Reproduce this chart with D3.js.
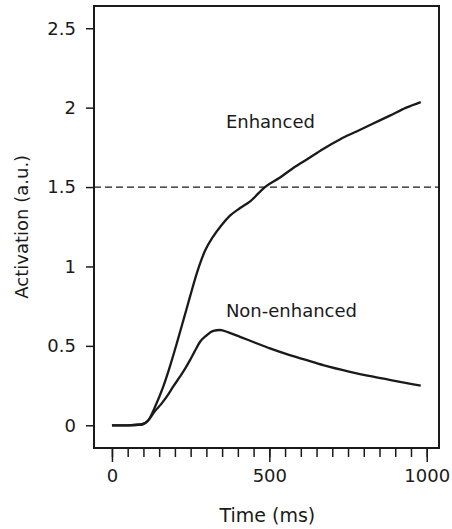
<!DOCTYPE html>
<html>
<head>
<meta charset="utf-8">
<script src="https://cdn.jsdelivr.net/npm/d3@7"></script>
<style>
  body { margin: 0; background: #fff; }
  svg text { font-family: "DejaVu Sans", Verdana, sans-serif; fill: #1a1a1a; }
</style>
</head>
<body>
<svg id="chart"></svg>
<script>
// curve samples (time in ms, activation in a.u.)
let enhancedTime = [0, 50, 94, 115, 137, 163, 184, 206, 227, 248, 270, 296, 322, 348, 375, 405, 439, 486, 534, 576, 624, 671, 724, 777, 830, 883, 935, 981]
let enhancedValue = [0, 0, 0.005, 0.03, 0.117, 0.243, 0.369, 0.516, 0.662, 0.81, 0.96, 1.10, 1.19, 1.26, 1.32, 1.365, 1.41, 1.50, 1.56, 1.62, 1.68, 1.74, 1.80, 1.85, 1.90, 1.95, 2.00, 2.035]

let nonTime = [0, 50, 94, 115, 137, 155, 174, 195, 216, 232, 248, 264, 280, 300, 322, 343, 370, 407, 455, 502, 560, 619, 671, 756, 830, 915, 981]
let nonValue = [0, 0, 0.005, 0.03, 0.09, 0.13, 0.18, 0.245, 0.306, 0.355, 0.41, 0.47, 0.526, 0.565, 0.595, 0.60, 0.585, 0.557, 0.52, 0.484, 0.445, 0.41, 0.379, 0.337, 0.306, 0.274, 0.249]

let threshold = 1.5
let yTicks = [0, 0.5, 1, 1.5, 2, 2.5]
let xMajorTicks = [0, 500, 1000]
let xMinorTicks = d3.range(0, 1001, 50)

let width = 452
let height = 529

let svg = d3.select("#chart").attr("width", width).attr("height", height)

// plot box edges sit outside the data range
let x = d3.scaleLinear().domain([-57, 1039]).range([94, 439])
let y = d3.scaleLinear().domain([-0.143, 2.64]).range([448, 6])

let ink = "#1a1a1a"

// dashed threshold
svg.append("line")
   .attr("x1", x(-57)).attr("x2", x(1039))
   .attr("y1", y(threshold)).attr("y2", y(threshold))
   .attr("stroke", ink)
   .attr("stroke-width", 1.3)
   .attr("stroke-dasharray", "7,4")

let line = d3.line()
             .x(d => x(d[0]))
             .y(d => y(d[1]))
             .curve(d3.curveMonotoneX)

let enhanced = enhancedTime.map((t, i) => [t, enhancedValue[i]])
let nonEnhanced = nonTime.map((t, i) => [t, nonValue[i]])

svg.append("path")
   .datum(nonEnhanced)
   .attr("d", line)
   .attr("fill", "none")
   .attr("stroke", ink)
   .attr("stroke-width", 2.3)
   .attr("stroke-linejoin", "round")

svg.append("path")
   .datum(enhanced)
   .attr("d", line)
   .attr("fill", "none")
   .attr("stroke", ink)
   .attr("stroke-width", 2.3)
   .attr("stroke-linejoin", "round")

// box
svg.append("rect")
   .attr("x", x(-57)).attr("y", y(2.64))
   .attr("width", x(1039) - x(-57))
   .attr("height", y(-0.143) - y(2.64))
   .attr("fill", "none")
   .attr("stroke", ink)
   .attr("stroke-width", 2)

// y axis
let yAxis = svg.append("g")
   .attr("transform", "translate(" + x(-57) + ",0)")
   .call(d3.axisLeft(y).tickValues(yTicks).tickSize(8).tickPadding(10).tickFormat(d3.format("~g")))
yAxis.select(".domain").remove()
yAxis.selectAll("line").attr("stroke", ink).attr("stroke-width", 1.5)
yAxis.selectAll("text").attr("font-size", 18).style("font-family", "DejaVu Sans")

// x axis: minor ticks then labelled major ticks
let xMinor = svg.append("g")
   .attr("transform", "translate(0," + y(-0.143) + ")")
   .call(d3.axisBottom(x).tickValues(xMinorTicks).tickSize(9).tickFormat(""))
xMinor.select(".domain").remove()
xMinor.selectAll("line").attr("stroke", ink).attr("stroke-width", 1.5)

let xMajor = svg.append("g")
   .attr("transform", "translate(0," + y(-0.143) + ")")
   .call(d3.axisBottom(x).tickValues(xMajorTicks).tickSize(14).tickPadding(7).tickFormat(d3.format("d")))
xMajor.select(".domain").remove()
xMajor.selectAll("line").attr("stroke", ink).attr("stroke-width", 1.5)
xMajor.selectAll("text").attr("font-size", 18).style("font-family", "DejaVu Sans")

// axis titles
svg.append("text")
   .attr("x", x(500) - 2)
   .attr("y", 522)
   .attr("text-anchor", "middle")
   .attr("font-size", 19)
   .text("Time (ms)")

svg.append("text")
   .attr("transform", "translate(28," + y(1.25) + ") rotate(-90)")
   .attr("text-anchor", "middle")
   .attr("font-size", 18)
   .text("Activation (a.u.)")

// curve labels
svg.append("text")
   .attr("x", x(362)).attr("y", y(1.87))
   .attr("font-size", 18)
   .text("Enhanced")

svg.append("text")
   .attr("x", x(362)).attr("y", y(0.683))
   .attr("font-size", 18)
   .text("Non-enhanced")
</script>
</body>
</html>
